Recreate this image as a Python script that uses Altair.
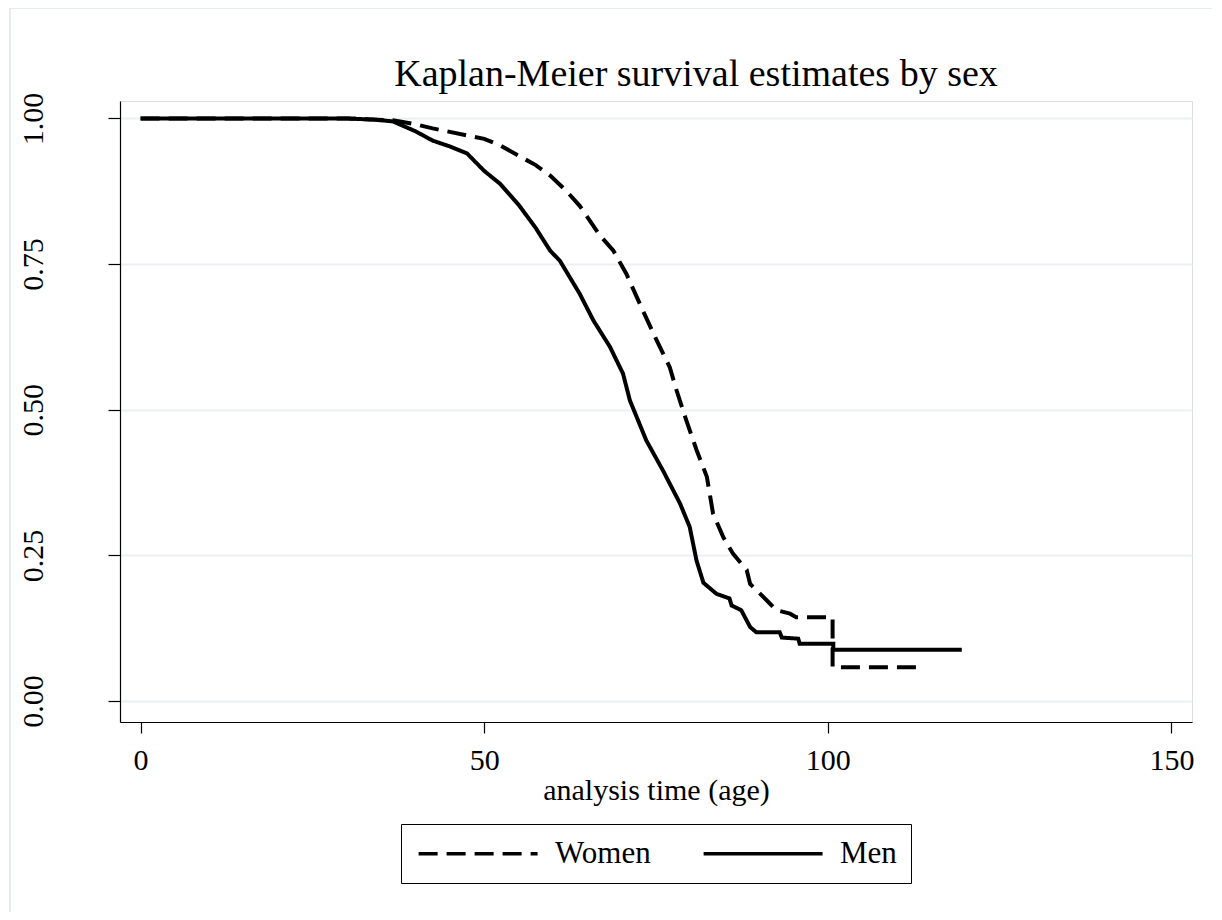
import altair as alt
import pandas as pd

# ---- data ----
groups = ["Women", "Men"]

women_age = [0, 30, 36.7, 40, 42.5, 47.5, 50, 52.3, 55, 57.5, 59.6, 62, 63.9, 66.8, 68.8,
             70.7, 73.1, 75.1, 77.0, 78.0, 79.4, 80.9, 82.4, 83.3, 84.8, 86.2, 88.2, 88.7,
             91.1, 92.5, 94.5, 95.4, 100.7, 100.7, 112.9]
women_surv = [1.0, 1.0, 0.997, 0.99, 0.983, 0.971, 0.965, 0.954, 0.936, 0.92, 0.902, 0.875,
              0.85, 0.80, 0.773, 0.733, 0.670, 0.619, 0.573, 0.533, 0.482, 0.431, 0.385,
              0.322, 0.281, 0.253, 0.225, 0.201, 0.173, 0.156, 0.150, 0.144, 0.144, 0.058,
              0.058]

men_age = [0, 30, 34, 36.7, 40, 42.5, 45, 47.5, 50, 52.3, 55, 57.5, 59.6, 61.0, 63.9, 65.9,
           68.3, 70.2, 71.2, 73.6, 76.0, 78.5, 79.9, 80.9, 81.9, 83.8, 85.7, 86.0, 87.4,
           88.7, 89.6, 93.0, 93.3, 95.7, 95.9, 100.8, 100.8, 119.5]
men_surv = [1.0, 1.0, 0.998, 0.995, 0.978, 0.962, 0.952, 0.940, 0.91, 0.888, 0.852, 0.812,
            0.773, 0.756, 0.699, 0.653, 0.608, 0.562, 0.516, 0.447, 0.396, 0.339, 0.299,
            0.241, 0.203, 0.184, 0.176, 0.164, 0.156, 0.127, 0.118, 0.118, 0.109, 0.107,
            0.0985, 0.0985, 0.088, 0.088]

x_ticks = [0, 50, 100, 150]
y_ticks = [0.0, 0.25, 0.5, 0.75, 1.0]

rows = []
for g, ages, survs in (("Women", women_age, women_surv), ("Men", men_age, men_surv)):
    for i, (a, s) in enumerate(zip(ages, survs)):
        rows.append({"sex": g, "age": a, "surv": s, "idx": i})
df = pd.DataFrame(rows)

FONT = "Liberation Serif"

lines = alt.Chart(df).mark_line(
    strokeWidth=4, color="black", strokeJoin="miter", strokeCap="butt"
).encode(
    x=alt.X(
        "age:Q",
        scale=alt.Scale(domain=[-3.0, 153.0], nice=False, zero=False),
        axis=alt.Axis(
            values=x_ticks, title="analysis time (age)", grid=False,
            tickSize=11, tickColor="black", domainColor="black", domainWidth=1.2,
            tickWidth=1.2, labelFont=FONT, labelFontSize=30, labelColor="black",
            labelPadding=12, titleFont=FONT, titleFontSize=30, titleFontWeight="normal",
            titleColor="black", titlePadding=0, labelFlush=False,
        ),
    ),
    y=alt.Y(
        "surv:Q",
        scale=alt.Scale(domain=[-0.036, 1.03], nice=False, zero=False),
        axis=alt.Axis(
            values=y_ticks, format=".2f", title=None, grid=True, gridColor="#e9f1f3",
            gridWidth=2, tickSize=12, tickColor="black", domainColor="black",
            domainWidth=1.2, tickWidth=1.2, labelFont=FONT, labelFontSize=30,
            labelColor="black", labelAngle=270, labelAlign="center",
            labelBaseline="bottom", labelPadding=60, labelFlush=False,
        ),
    ),
    strokeDash=alt.StrokeDash(
        "sex:N",
        scale=alt.Scale(domain=groups, range=[[19, 9], [1, 0]]),
        legend=alt.Legend(
            title=None, orient="none", legendX=281, legendY=723,
            direction="horizontal", columns=2, symbolType="M-1,0H9",
            symbolSize=566, symbolStrokeWidth=3.5, symbolStrokeColor="black",
            symbolFillColor="transparent",
            labelFont=FONT, labelFontSize=31, labelColor="black", labelOffset=109,
            columnPadding=45, padding=14, strokeColor="black", fillColor="white",
            labelLimit=300,
        ),
    ),
    order="idx:Q",
)

border = alt.Chart(pd.DataFrame({"k": [0]})).mark_rect(
    fill="transparent", stroke="#e4ecf0", strokeWidth=2, clip=False
).encode(
    x=alt.value(-110), x2=alt.value(1200), y=alt.value(-93), y2=alt.value(1000)
)

chart = alt.layer(border, lines).properties(
    width=1072,
    height=621,
    autosize=alt.AutoSizeParams(type="none"),
    padding={"left": 112, "top": 93, "right": 20, "bottom": 190},
    title=alt.Title(
        "Kaplan-Meier survival estimates by sex",
        font=FONT, fontSize=38, fontWeight="normal", color="black",
        anchor="middle", baseline="alphabetic", offset=14, dy=131, dx=40,
    ),
).configure_view(strokeOpacity=0, strokeWidth=0).configure(background="white")

chart.save("out.html", embed_options={"renderer": "svg", "actions": False})
